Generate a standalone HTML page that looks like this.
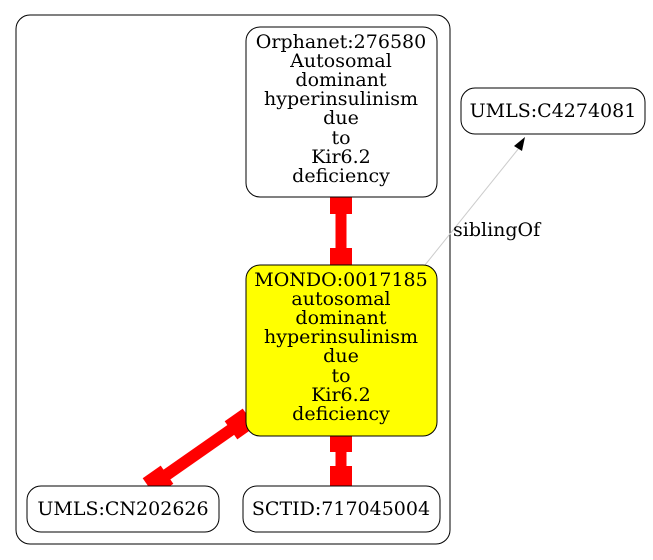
<!DOCTYPE html>
<html><head><meta charset="utf-8"><style>
html,body{margin:0;padding:0;background:#fff;width:653px;height:560px;overflow:hidden}
text{font-family:"DejaVu Serif",serif;font-size:19px;fill:#000}
</style></head><body>
<svg width="653" height="560" viewBox="0 0 653 560" xmlns="http://www.w3.org/2000/svg">
<rect x="16" y="15" width="434" height="529" rx="14" fill="none" stroke="#000"/>
<line x1="425" y1="265" x2="519" y2="148" stroke="#ccc" stroke-width="1"/>
<polygon points="525,137 514,146 522,151" fill="#000"/>
<text x="453" y="236">siblingOf</text>
<line x1="341" y1="200" x2="341" y2="262" stroke="red" stroke-width="11"/>
<rect x="330" y="192" width="22" height="22" fill="red"/>
<rect x="330" y="248" width="22" height="22" fill="red"/>
<line x1="341" y1="440" x2="341" y2="482" stroke="red" stroke-width="11"/>
<rect x="330" y="430" width="22" height="22" fill="red"/>
<rect x="330" y="466" width="22" height="22" fill="red"/>
<line x1="245" y1="420" x2="152" y2="485" stroke="red" stroke-width="12"/>
<rect x="-11" y="-11" width="22" height="22" fill="red" transform="translate(240,424) rotate(-35)"/>
<rect x="-11" y="-11" width="22" height="22" fill="red" transform="translate(158,481) rotate(-35)"/>
<rect x="246" y="27" width="191" height="170" rx="14" fill="#fff" stroke="#000"/>
<g text-anchor="middle">
<text x="341" y="48">Orphanet:276580</text>
<text x="341" y="67">Autosomal</text>
<text x="341" y="86">dominant</text>
<text x="341" y="105">hyperinsulinism</text>
<text x="341" y="124">due</text>
<text x="341" y="144">to</text>
<text x="341" y="163">Kir6.2</text>
<text x="341" y="182">deficiency</text>
</g>
<rect x="246" y="265" width="191" height="171" rx="14" fill="#ff0" stroke="#000"/>
<g text-anchor="middle">
<text x="341" y="286">MONDO:0017185</text>
<text x="341" y="305">autosomal</text>
<text x="341" y="324">dominant</text>
<text x="341" y="343">hyperinsulinism</text>
<text x="341" y="362">due</text>
<text x="341" y="382">to</text>
<text x="341" y="401">Kir6.2</text>
<text x="341" y="420">deficiency</text>
</g>
<rect x="27" y="486" width="192" height="46" rx="14" fill="#fff" stroke="#000"/>
<text x="123" y="515" text-anchor="middle">UMLS:CN202626</text>
<rect x="243" y="486" width="197" height="46" rx="14" fill="#fff" stroke="#000"/>
<text x="341" y="515" text-anchor="middle">SCTID:717045004</text>
<rect x="461" y="88" width="184" height="46" rx="14" fill="#fff" stroke="#000"/>
<text x="553" y="117" text-anchor="middle">UMLS:C4274081</text>
</svg>
</body></html>
